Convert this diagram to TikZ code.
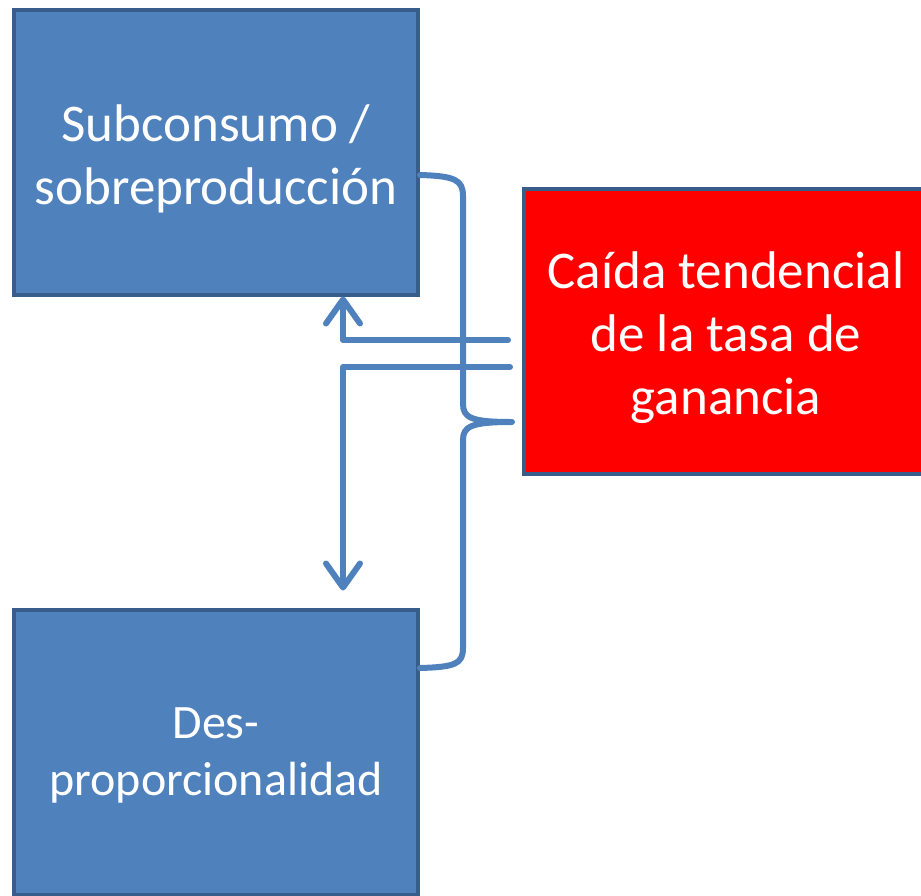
\documentclass[tikz,border=0pt]{standalone}
\usepackage{fontspec}
\setmainfont{Carlito}
\usetikzlibrary{arrows.meta,positioning}
\definecolor{boxblue}{RGB}{79,129,189}
\definecolor{boxedge}{RGB}{56,93,138}
\definecolor{boxred}{RGB}{255,0,0}

\begin{document}
\begin{tikzpicture}[x=1pt, y=-1pt,
  box/.style={draw=boxedge, line width=4pt, fill=boxblue,
    minimum width=404pt, minimum height=285pt},
  boxtext/.style={text=white, align=center, font=\fontsize{53}{63}\selectfont},
  conn/.style={draw=boxblue, line width=6pt, line cap=round, line join=round},
  tip/.style={-{Straight Barb[length=24pt, width=34pt, round]}}]
\useasboundingbox (0,0) rectangle (921,895);
\clip (0,0) rectangle (921,895);
% Boxes
\node[box] (top) at (216,152) {};
\node[box] (bot) at (216,752) {};
\node[box, fill=boxred] (red) at (726,331) {};
% Box texts
\node[boxtext] (toptext) at ([yshift=-7pt]top.center) {Subconsumo /\\sobreproducción};
\node[boxtext, font=\fontsize{48}{57}\selectfont] (bottext) at ([yshift=-3pt]bot.center) {Des-\\proporcionalidad};
\node[boxtext] (redtext) at ([yshift=-7pt]red.center) {Caída tendencial\\de la tasa de\\ganancia};
% Arrows from the red box
\draw[conn, tip] ([xshift=-14pt, yshift=-9pt]red.west) -| ([xshift=127pt]top.south);
\draw[conn, tip] ([xshift=-12pt, yshift=-36pt]red.west) -| ([xshift=127pt, yshift=17pt]bot.north);
% Brace
\coordinate (bt) at ([yshift=-23pt]top.east);
\coordinate (bb) at ([yshift=84pt]bot.east);
\coordinate (btip) at ([xshift=-10pt, yshift=-91pt]red.west);
\draw[conn] (bt) .. controls (455,176) and (463,180) .. (463,196) -- (463,404)
  .. controls (463,418) and (472,422) .. (btip)
  .. controls (472,422) and (463,426) .. (463,440) -- (463,648)
  .. controls (463,664) and (455,667) .. (bb);
\end{tikzpicture}
\end{document}
